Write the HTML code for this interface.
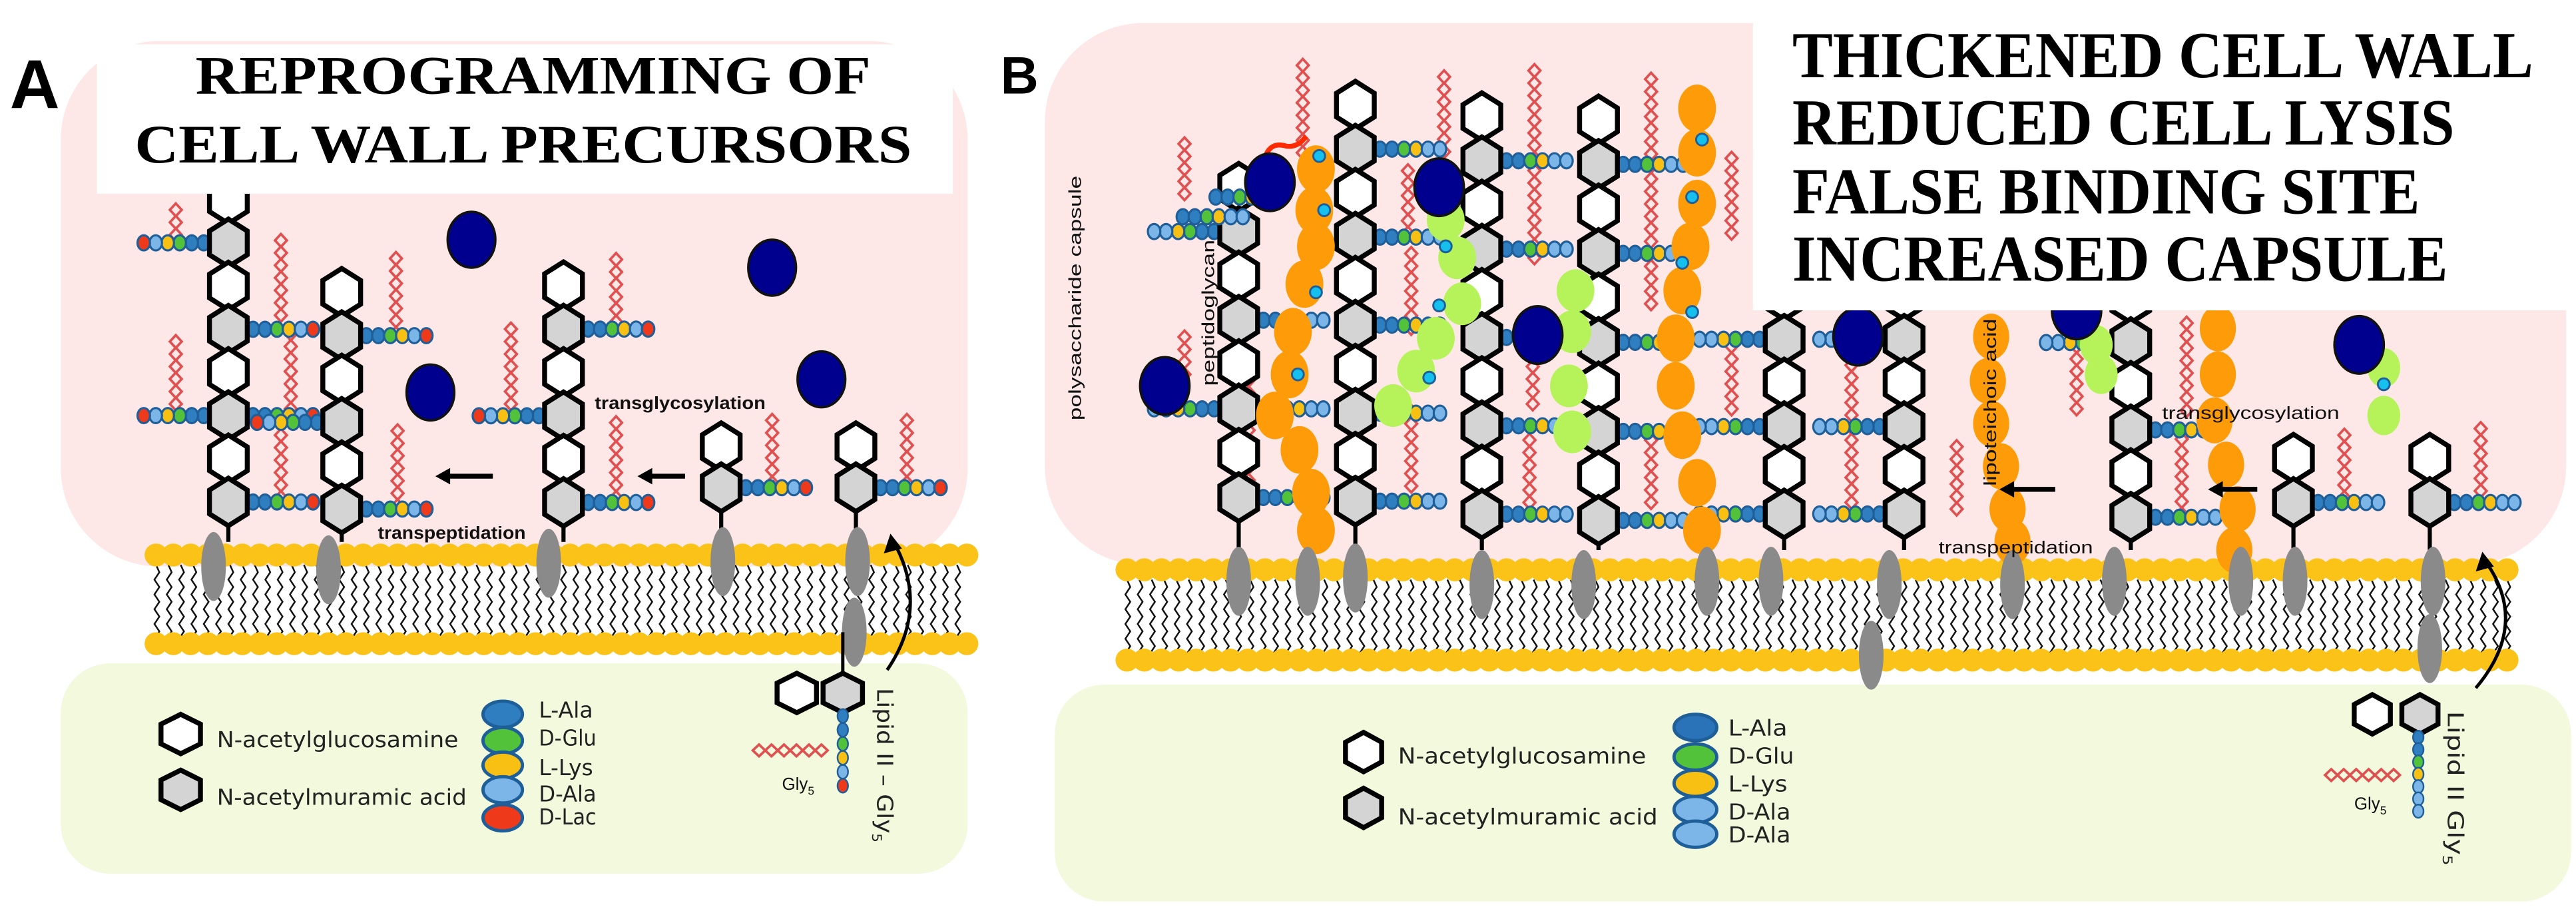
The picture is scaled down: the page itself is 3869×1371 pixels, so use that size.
<!DOCTYPE html>
<html><head><meta charset="utf-8"><style>
html,body{margin:0;padding:0;background:#fff;}
svg{display:block;}
.leg{font-family:"DejaVu Sans","Liberation Sans",sans-serif;font-size:13.5px;fill:#222;}
.lab{font-family:"Liberation Sans",sans-serif;font-size:10.5px;fill:#111;}
.ttl{font-family:"Liberation Serif",serif;font-weight:bold;fill:#000;}
</style></head><body>
<svg id="s" width="3869" height="1371" viewBox="0 0 1568 556" preserveAspectRatio="none" xmlns="http://www.w3.org/2000/svg">
<rect x="0" y="0" width="1568" height="556" fill="#fff"/>
<rect x="37" y="25" width="552" height="320" rx="60" fill="#fde8e7"/>
<rect x="37" y="404" width="552" height="128" rx="30" fill="#f2f9dc"/>
<rect x="636" y="14" width="926" height="330" rx="60" fill="#fde8e7"/>
<rect x="642" y="417" width="923" height="132" rx="30" fill="#f2f9dc"/>
<g id="layer"></g>
<g id="top"></g>
<rect x="59" y="27" width="521" height="91" fill="#fff"/>
<text class="ttl" x="119" y="57" font-size="33" textLength="411" lengthAdjust="spacingAndGlyphs">REPROGRAMMING OF</text>
<text class="ttl" x="82" y="99" font-size="33" textLength="473" lengthAdjust="spacingAndGlyphs">CELL WALL PRECURSORS</text>
<rect x="1067" y="10" width="498" height="179" fill="#fff"/>
<text class="ttl" x="1091" y="47" font-size="40" textLength="451" lengthAdjust="spacingAndGlyphs">THICKENED CELL WALL</text>
<text class="ttl" x="1091" y="88" font-size="40" textLength="403" lengthAdjust="spacingAndGlyphs">REDUCED CELL LYSIS</text>
<text class="ttl" x="1091" y="130" font-size="40" textLength="382" lengthAdjust="spacingAndGlyphs">FALSE BINDING SITE</text>
<text class="ttl" x="1091" y="171" font-size="40" textLength="399" lengthAdjust="spacingAndGlyphs">INCREASED CAPSULE</text>
<text x="6" y="66" font-family="Liberation Sans,sans-serif" font-weight="bold" font-size="42">A</text>
<text x="609" y="57" font-family="Liberation Sans,sans-serif" font-weight="bold" font-size="32">B</text>
<text class="leg" x="132" y="455" textLength="147" lengthAdjust="spacingAndGlyphs">N-acetylglucosamine</text>
<text class="leg" x="132" y="490" textLength="152" lengthAdjust="spacingAndGlyphs">N-acetylmuramic acid</text>
<text class="leg" x="328" y="437" textLength="33" lengthAdjust="spacingAndGlyphs">L-Ala</text>
<text class="leg" x="328" y="454" textLength="35" lengthAdjust="spacingAndGlyphs">D-Glu</text>
<text class="leg" x="328" y="472" textLength="33" lengthAdjust="spacingAndGlyphs">L-Lys</text>
<text class="leg" x="328" y="488" textLength="35" lengthAdjust="spacingAndGlyphs">D-Ala</text>
<text class="leg" x="328" y="502" textLength="35" lengthAdjust="spacingAndGlyphs">D-Lac</text>
<text class="leg" x="851" y="465" textLength="151" lengthAdjust="spacingAndGlyphs">N-acetylglucosamine</text>
<text class="leg" x="851" y="502" textLength="158" lengthAdjust="spacingAndGlyphs">N-acetylmuramic acid</text>
<text class="leg" x="1052" y="448" textLength="36" lengthAdjust="spacingAndGlyphs">L-Ala</text>
<text class="leg" x="1052" y="465" textLength="40" lengthAdjust="spacingAndGlyphs">D-Glu</text>
<text class="leg" x="1052" y="482" textLength="36" lengthAdjust="spacingAndGlyphs">L-Lys</text>
<text class="leg" x="1052" y="499" textLength="38" lengthAdjust="spacingAndGlyphs">D-Ala</text>
<text class="leg" x="1052" y="513" textLength="38" lengthAdjust="spacingAndGlyphs">D-Ala</text>
<text class="lab" x="362" y="249" font-weight="bold" textLength="104" lengthAdjust="spacingAndGlyphs">transglycosylation</text>
<text class="lab" x="230" y="328" font-weight="bold" textLength="90" lengthAdjust="spacingAndGlyphs">transpeptidation</text>
<text class="lab" x="1316" y="255" textLength="108" lengthAdjust="spacingAndGlyphs">transglycosylation</text>
<text class="lab" x="1180" y="337" textLength="94" lengthAdjust="spacingAndGlyphs">transpeptidation</text>
<text class="lab" x="476" y="481" font-size="10">Gly<tspan font-size="7" dy="3">5</tspan></text>
<text class="lab" x="1433" y="493" font-size="10">Gly<tspan font-size="7" dy="3">5</tspan></text>
<text class="leg" transform="translate(534,419) rotate(90)" textLength="94" lengthAdjust="spacingAndGlyphs">Lipid  II – Gly<tspan font-size="8" dy="3">5</tspan></text>
<text class="leg" transform="translate(1490,433) rotate(90)" textLength="94" lengthAdjust="spacingAndGlyphs">Lipid  II    Gly<tspan font-size="8" dy="3">5</tspan></text>
<text class="lab" transform="translate(658,256) rotate(-90)" font-size="11" textLength="149" lengthAdjust="spacingAndGlyphs">polysaccharide capsule</text>
<text class="lab" transform="translate(739,235) rotate(-90)" font-size="13" textLength="89" lengthAdjust="spacingAndGlyphs">peptidoglycan</text>
<text class="lab" transform="translate(1215,296) rotate(-90)" font-size="13" textLength="102" lengthAdjust="spacingAndGlyphs">lipoteichoic acid</text>
</svg>
<script>
var NS="http://www.w3.org/2000/svg";
var L=document.getElementById('layer'),T=document.getElementById('top');
function el(p,t,a){var e=document.createElementNS(NS,t);for(var k in a)e.setAttribute(k,a[k]);p.appendChild(e);return e;}
function hex(p,x,y,grey,w,h){w=w||11.5;h=h||14.5;var pts=[[x,y-h],[x+w,y-h/2],[x+w,y+h/2],[x,y+h],[x-w,y+h/2],[x-w,y-h/2]].map(function(q){return q.join(',')}).join(' ');
el(p,'polygon',{points:pts,fill:grey?'#d4d4d4':'#fff',stroke:'#000','stroke-width':3});}
var PC=['#2f7fc0','#52c23a','#f8c012','#7cb6e8','#7cb6e8','#ee3a1a'];
function pep(p,x,y,dir,cols){for(var i=0;i<cols.length;i++){el(p,'ellipse',{cx:x+dir*i*7.3,cy:y,rx:3.8,ry:4.6,fill:cols[i],stroke:'#1f5f99','stroke-width':1.3});}}
function gly(p,x,y1,y2){for(var y=y2;y>=y1;y-=7.6){el(p,'polygon',{points:x+','+(y-3.9)+' '+(x+3.6)+','+y+' '+x+','+(y+3.9)+' '+(x-3.6)+','+y,fill:'none',stroke:'#e05050','stroke-width':1.5});}}
function glyH(p,x1,x2,y){for(var x=x1;x<=x2;x+=7.6){el(p,'polygon',{points:x+','+(y-3.6)+' '+(x+3.8)+','+y+' '+x+','+(y+3.6)+' '+(x-3.8)+','+y,fill:'none',stroke:'#e05050','stroke-width':1.5});}}
function anchor(x,y,ry){el(L,'ellipse',{cx:x,cy:y,rx:7.5,ry:ry||21,fill:'#8a8a8a'});}
function membrane(x0,x1,y1,y2){
 for(var x=x0;x<x1;x+=7.5){var d='M'+x+' '+(y1+6);var j=0;for(var y=y1+6;y<y2-5;y+=4.5){j++;d+=' L'+(x+(j%2?2:-1))+' '+(y+4.5);}el(L,'path',{d:d,fill:'none',stroke:'#111','stroke-width':1});}
 for(var x=x0;x<=x1;x+=10.5){el(L,'circle',{cx:x,cy:y1,r:7,fill:'#fbc217'});el(L,'circle',{cx:x,cy:y2,r:7,fill:'#fbc217'});}
}
membrane(95,590,338,392);
membrane(686,1527,347,402);
function chain(x,y0,n,dy,bottom,sides,cols){
 var g=el(L,'g',{});
 var last=y0+(n-1)*dy;
 el(g,'line',{x1:x,y1:last,x2:x,y2:bottom,stroke:'#000','stroke-width':2.5});
 var k=0;
 for(var i=0;i<n;i++){if(i%2==1){var s=sides[k]||[];k++;s.forEach(function(d){pep(g,x+d*15,y0+i*dy,d,cols);});}}
 for(var i=0;i<n;i++){hex(g,x,y0+i*dy,i%2==1);}
}
var CA=[PC[0],PC[0],PC[1],PC[2],PC[3],PC[5]];
var CB=[PC[0],PC[0],PC[1],PC[2],PC[3],PC[3]];
// Panel A gly chains (behind)
[[107,121,143],[171,146,192],[107,201,246],[177,203,249],[171,260,303],[241,157,203],[242,262,308],[311,199,246],[375,153,196],[375,256,303],[470,251,294],[552,251,294]].forEach(function(a){gly(L,a[0],a[1],a[2]);});
chain(139,121.6,8,26.3,330,[[-1],[1],[-1,1],[1]],CA);
chain(208,178,6,26.4,330,[[1],[-1],[1]],CA);
chain(343,174,6,26.4,330,[[1],[-1],[1]],CA);
chain(439,272,2,25,330,[[1]],CA);
chain(521,272,2,25,330,[[1]],CA);
[[130,345],[200,347],[334,343],[440,342],[522,342],[520,385]].forEach(function(a){anchor(a[0],a[1]);});
[[287,146],[470,163],[262,239],[500,231]].forEach(function(a){el(T,'ellipse',{cx:a[0],cy:a[1],rx:14.5,ry:17,fill:'#00008e',stroke:'#111','stroke-width':1.5});});
function arrow(tip,tail,y){el(T,'line',{x1:tip+6,y1:y,x2:tail,y2:y,stroke:'#000','stroke-width':3});el(T,'polygon',{points:tip+','+y+' '+(tip+9)+','+(y-5)+' '+(tip+9)+','+(y+5),fill:'#000'});}
arrow(265,300,290);arrow(388,417,290);
// Lipid II A
el(L,'line',{x1:513,y1:385,x2:513,y2:410,stroke:'#000','stroke-width':2});
hex(T,485,422,false,12,12);hex(T,513,422,true,12,12);
for(var i=0;i<6;i++){el(T,'ellipse',{cx:513,cy:436+i*8.5,rx:3.2,ry:4.2,fill:CA[i],stroke:'#1f5f99','stroke-width':1});}
glyH(T,462,506,457);
el(T,'path',{d:'M540 408 Q566 370 544 330',fill:'none',stroke:'#000','stroke-width':2});
el(T,'polygon',{points:'542,325 538,337 549,334',fill:'#000'});
// legends
hex(T,110,447,false,12,12);hex(T,110,481,true,12,12);
[[435,PC[0]],[451,PC[1]],[466,PC[2]],[481,PC[3]],[498,PC[5]]].forEach(function(a){el(T,'ellipse',{cx:306,cy:a[0],rx:12,ry:8,fill:a[1],stroke:'#1f5f99','stroke-width':2});});
hex(T,830,458,false,11,12);hex(T,830,492,true,11,12);
[[443,'#2a73b8'],[461,PC[1]],[477,PC[2]],[493,PC[3]],[508,PC[3]]].forEach(function(a){el(T,'ellipse',{cx:1032,cy:a[0],rx:13,ry:8,fill:a[1],stroke:'#1f5f99','stroke-width':2});});
// Panel B
function blobs(pts,col,rx,ry){pts.forEach(function(p){el(L,'ellipse',{cx:p[0],cy:p[1],rx:rx,ry:ry,fill:col});});}
[[793,34,93],[721,85,118],[721,198,228],[857,98,142],[859,153,200],[859,249,296],[934,43,157],[933,210,246],[931,267,306],[1005,43,185],[1005,267,306],[1054,89,142],[1054,207,249],[1127,221,306],[1191,271,310],[1264,210,249],[1331,192,250],[1328,263,313],[1427,260,303],[1510,256,299],[879,43,100],[760,230,300]].forEach(function(a){gly(L,a[0],a[1],a[2]);});
chain(754,114,8,27,335,[[-1],[1],[-1,1],[1]],CB);
chain(825,64,10,26.8,335,[[1],[1],[1],[1],[1]],CB);
chain(902,71,10,26.9,335,[[1],[1],[1],[1],[1]],CB);
chain(973,73,10,27.1,335,[[1],[1],[1],[1],[1]],CB);
chain(1086,180,6,26.6,335,[[-1],[-1],[-1]],CB);
chain(1159,180,6,26.6,335,[[-1],[-1],[-1]],CB);
chain(1297,182,6,26.6,335,[[-1],[1],[1]],CB);
chain(1396,279,2,27,335,[[1]],CB);
chain(1479,279,2,27,335,[[1]],CB);
pep(L,720,132,1,CB);pep(L,740,120,1,CB);
blobs([[801,103],[800,128],[801,150],[794,173],[787,202],[785,228],[776,253],[791,274],[798,300],[801,323]],'#fd9b08',11.5,14.5);
blobs([[1033,66],[1033,93],[1033,124],[1029,150],[1024,177],[1020,206],[1020,235],[1024,265],[1033,294],[1036,323]],'#fd9b08',11.5,14.5);
blobs([[1212,205],[1210,232],[1212,258],[1218,284],[1222,310],[1225,330]],'#fd9b08',11,14);
blobs([[1350,200],[1350,228],[1348,256],[1355,283],[1362,310],[1360,335]],'#fd9b08',11,14);
blobs([[880,134],[887,157],[890,185],[874,206],[862,226],[848,247]],'#b6f35a',11.5,13);
blobs([[959,177],[957,202],[955,235],[957,263]],'#b6f35a',11.5,13);
blobs([[1276,210],[1279,228]],'#b6f35a',10,12);
blobs([[1451,224],[1451,253]],'#b6f35a',10,12);
[[806,128],[801,178],[790,228],[803,95],[880,150],[876,186],[870,230],[1036,85],[1030,120],[1024,160],[1030,190],[1451,234]].forEach(function(a){el(L,'circle',{cx:a[0],cy:a[1],r:3.6,fill:'#16c0ee',stroke:'#1f5f99','stroke-width':1.2});});
el(L,'path',{d:'M770 96 Q773 86 783 89 Q790 90 795 83',fill:'none',stroke:'#ff2a00','stroke-width':3});
[[754,354],[796,354],[825,352],[902,356],[964,356],[1039,354],[1078,354],[1150,356],[1139,399],[1225,356],[1287,354],[1364,354],[1397,354],[1481,354],[1479,395]].forEach(function(a){anchor(a[0],a[1]);});
[[773,111],[876,114],[936,204],[709,235],[1131,205],[1264,189],[1436,210]].forEach(function(a){el(T,'ellipse',{cx:a[0],cy:a[1],rx:15,ry:17.5,fill:'#00008e',stroke:'#111','stroke-width':1.5});});
arrow(1217,1251,298);arrow(1344,1374,298);
// Lipid II B
hex(T,1444,435,false,11,12);hex(T,1473,435,true,11,12);
for(var i=0;i<7;i++){el(T,'ellipse',{cx:1472,cy:449+i*7.5,rx:3.2,ry:4,fill:[PC[0],PC[0],PC[1],PC[2],PC[3],PC[3],PC[3]][i],stroke:'#1f5f99','stroke-width':1});}
glyH(T,1419,1462,472);
el(T,'path',{d:'M1507 419 Q1540 380 1513 342',fill:'none',stroke:'#000','stroke-width':2});
el(T,'polygon',{points:'1511,336 1507,348 1518,345',fill:'#000'});
</script>
</body></html>
